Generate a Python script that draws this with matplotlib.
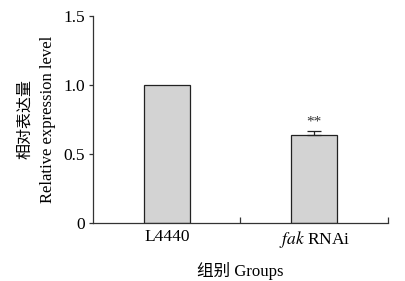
import matplotlib
matplotlib.use("Agg")
import matplotlib.pyplot as plt
from matplotlib.ticker import FixedLocator

plt.rcParams['font.family'] = ['Liberation Serif', 'Noto Sans CJK SC']
plt.rcParams['mathtext.fontset'] = 'stix'

categories = ["L4440", "fak RNAi"]
values = [1.0, 0.64]
errors = [0.0, 0.03]
yticks = [0, 0.5, 1.0, 1.5]
ytick_labels = ["0", "0.5", "1.0", "1.5"]

fig = plt.figure(figsize=(4.05, 2.81), dpi=100)
ax = fig.add_axes([0.2296, 0.206, 0.9580 - 0.2296, 0.943 - 0.206])

x = list(range(len(categories)))
ax.bar(x, values, width=0.31, color='#d3d3d3', edgecolor='#222222', linewidth=0.9, zorder=2)
ax.errorbar(x[1], values[1], yerr=[[0], [errors[1]]], fmt='none', ecolor='#222222',
            elinewidth=0.9, capsize=5, capthick=0.9, zorder=3)
ax.text(x[1], values[1] + errors[1] + 0.012, "**", ha='center', va='bottom', fontsize=11, color='#333333')

ax.set_xlim(-0.5, 1.5)
ax.set_ylim(0, 1.5)
ax.set_yticks(yticks)
ax.set_yticklabels(ytick_labels)
ax.set_xticks(x)
ax.set_xticklabels(["L4440", r"$\mathit{fak}$ RNAi"])
ax.xaxis.set_minor_locator(FixedLocator([0.5, 1.5]))
ax.tick_params(axis='x', which='major', length=0, pad=4, labelsize=12.5)
ax.tick_params(axis='x', which='minor', direction='in', length=4, width=0.9, color='#333333')
ax.tick_params(axis='y', which='major', direction='out', length=3, width=0.9, color='#333333', labelsize=12.5, pad=3)

for s in ['top', 'right']:
    ax.spines[s].set_visible(False)
for s in ['left', 'bottom']:
    ax.spines[s].set_linewidth(0.9)
    ax.spines[s].set_color('#333333')

ax.set_xlabel("组别 Groups", fontsize=12, labelpad=9)
fig.text(0.062, 0.575, "相对表达量", rotation=90, ha='center', va='center', fontsize=11.5)
fig.text(0.118, 0.575, "Relative expression level", rotation=90, ha='center', va='center', fontsize=12)

fig.savefig("out.png", dpi=100)
